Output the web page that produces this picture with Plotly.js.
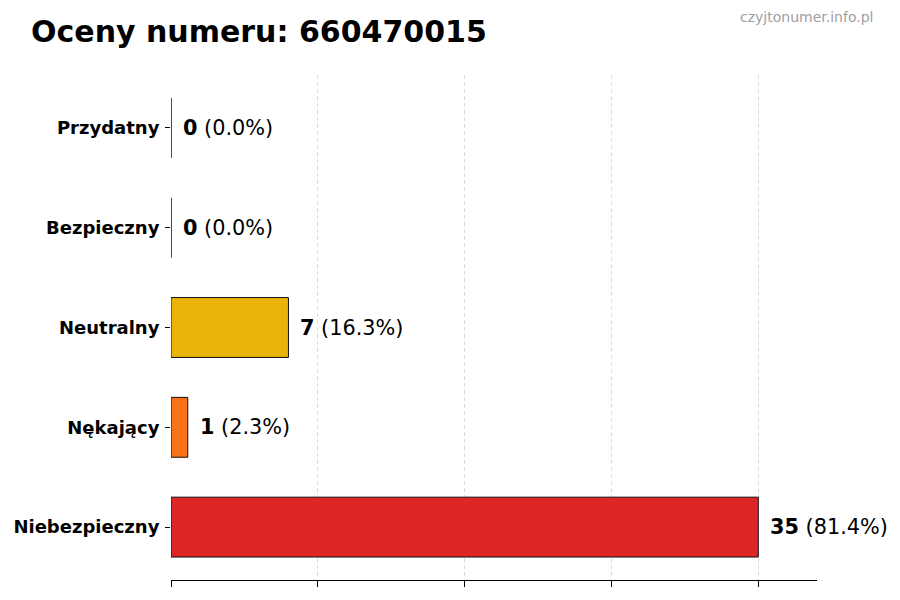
<!DOCTYPE html>
<html>
<head>
<meta charset="utf-8">
<script src="https://cdn.plot.ly/plotly-3.0.1.min.js"></script>
<style>
  body { margin: 0; background: #fff; }
  #chart { width: 900px; height: 600px; }
</style>
</head>
<body>
<div id="chart"></div>
<script>
// categories listed bottom to top
const categories = ['Niebezpieczny', 'Nękający', 'Neutralny', 'Bezpieczny', 'Przydatny'];
const counts = [35, 1, 7, 0, 0];
const colors = ['#DC2626', '#F97316', '#EAB308', '#16A34A', '#22C55E'];
const title = 'Oceny numeru: 660470015';
const watermark = 'czyjtonumer.info.pl';

const total = counts.reduce((a, b) => a + b, 0);
const maxVal = Math.max(...counts);
const font = 'DejaVu Sans, sans-serif';

const trace = {
    type: 'bar',
    orientation: 'h',
    y: categories,
    x: counts,
    width: 0.6,
    marker: { color: colors, line: { color: '#111', width: 1 } },
    hoverinfo: 'none'
};

const labels = categories.map((c, i) => ({
    x: counts[i],
    y: c,
    xref: 'x',
    yref: 'y',
    text: `<b>${counts[i]}</b> (${(100 * counts[i] / total).toFixed(1)}%)`,
    showarrow: false,
    xanchor: 'left',
    xshift: 10,
    font: { family: font, size: 20.8, color: '#000' }
}));

const layout = {
    width: 900,
    height: 600,
    margin: { l: 171, r: 83, t: 75, b: 20 },
    paper_bgcolor: '#fff',
    plot_bgcolor: '#fff',
    font: { family: font, color: '#000' },
    showlegend: false,
    bargap: 0.4,
    title: {
        text: `<b>${title}</b>`,
        font: { family: font, size: 30, color: '#000' },
        x: 31 / 900, xanchor: 'left', xref: 'container',
        y: 1 - 31 / 600, yanchor: 'middle', yref: 'container'
    },
    xaxis: {
        range: [0, maxVal * 1.1],
        tickvals: [0, 1, 2, 3, 4].map(k => k * maxVal / 4),
        ticktext: ['', '', '', '', ''],
        ticks: 'outside',
        ticklen: 6,
        tickcolor: '#000',
        showline: true,
        linecolor: '#000',
        linewidth: 1,
        showgrid: true,
        gridcolor: '#dcdcdc',
        griddash: '4px,3px',
        gridwidth: 1,
        zeroline: false,
        fixedrange: true
    },
    yaxis: {
        range: [-0.53, 4.53],
        ticks: 'outside',
        ticklen: 5,
        tickcolor: '#000',
        showline: false,
        showgrid: false,
        zeroline: false,
        tickfont: { family: font, size: 18, color: '#000', weight: 'bold' },
        ticklabelstandoff: 2,
        fixedrange: true
    },
    annotations: labels.concat([{
        text: watermark,
        xref: 'paper', yref: 'paper',
        x: (875 - 171) / (900 - 171 - 83),
        y: 1 + (75 - 17) / 505,
        xanchor: 'right', yanchor: 'middle',
        showarrow: false,
        font: { family: font, size: 14, color: '#a0a0a0' }
    }])
};

Plotly.newPlot('chart', [trace], layout, { displayModeBar: false, staticPlot: true });
</script>
</body>
</html>
